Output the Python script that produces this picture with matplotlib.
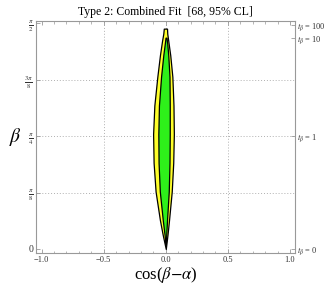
import numpy as np
import matplotlib
matplotlib.use('Agg')
import matplotlib.pyplot as plt
from matplotlib.ticker import MultipleLocator, FixedLocator

plt.rcParams['font.family'] = ['Liberation Serif', 'DejaVu Serif']
plt.rcParams['mathtext.fontset'] = 'stix'

title = "Type 2: Combined Fit  [68, 95% CL]"

# 95% CL contour: beta values and left/right cos(beta-alpha) extents
beta95 = [0.0, 0.1, 0.2, 0.4, 0.6, 0.8, 1.0, 1.2, 1.35, 1.45, 1.50, 1.535]
left95 = [0.0, -0.025, -0.047, -0.082, -0.098, -0.102, -0.092, -0.068, -0.047, -0.030, -0.020, -0.016]
right95 = [0.0, 0.014, 0.026, 0.048, 0.060, 0.065, 0.062, 0.053, 0.036, 0.020, 0.012, 0.010]

# 68% CL contour
beta68 = [0.03, 0.1, 0.2, 0.4, 0.6, 0.8, 1.0, 1.2, 1.35, 1.43, 1.472]
left68 = [-0.001, -0.010, -0.024, -0.048, -0.058, -0.060, -0.055, -0.038, -0.020, -0.008, -0.002]
right68 = [0.0, 0.004, 0.010, 0.024, 0.030, 0.032, 0.032, 0.030, 0.020, 0.012, 0.006]

xticks = [-1.0, -0.5, 0.0, 0.5, 1.0]
xticklabels = ['\u22121.0', '\u22120.5', '0.0', '0.5', '1.0']
yticks = [0, np.pi/8, np.pi/4, 3*np.pi/8, np.pi/2]
yticklabels = ['0', r'$\frac{\pi}{8}$', r'$\frac{\pi}{4}$', r'$\frac{3\pi}{8}$', r'$\frac{\pi}{2}$']
tb_values = [0, 1, 10, 100]
tb_labels = [r'$t_\beta$ = 0', r'$t_\beta$ = 1', r'$t_\beta$ = 10', r'$t_\beta$ = 100']

fig = plt.figure(figsize=(3.32, 2.92), dpi=100)
ax = fig.add_axes([0.1084, 0.1336, 0.78, 0.7944])

ax.set_xlim(-1.045, 1.04)
ax.set_ylim(-0.028, 1.588)

# grid
for gx in [-0.5, 0.0, 0.5]:
    ax.axvline(gx, color='#b0b0b0', lw=0.7, ls=(0, (1, 2)), zorder=0)
for gy in [np.pi/8, np.pi/4, 3*np.pi/8]:
    ax.axhline(gy, color='#b0b0b0', lw=0.7, ls=(0, (1, 2)), zorder=0)

ax.fill_betweenx(beta95, left95, right95, facecolor='#ffff2a', edgecolor='black', lw=0.9, zorder=2)
ax.fill_betweenx(beta68, left68, right68, facecolor='#2ef01a', edgecolor='black', lw=0.9, zorder=3)

spine_col = '#999999'
for s in ax.spines.values():
    s.set_color(spine_col)
    s.set_linewidth(0.8)

ax.set_xticks(xticks)
ax.set_xticklabels(xticklabels, fontsize=6)
ax.xaxis.set_minor_locator(MultipleLocator(0.1))
ax.set_yticks(yticks)
ax.set_yticklabels(yticklabels, fontsize=7)
ax.tick_params(axis='both', which='major', direction='in', length=3, width=0.6,
               color=spine_col, pad=2, top=True, labelcolor='#333333')
ax.tick_params(axis='x', which='minor', direction='in', length=1.8, width=0.5,
               color=spine_col, top=True)

ax2 = ax.twinx()
ax2.set_ylim(ax.get_ylim())
ax2.set_yticks(np.arctan(tb_values))
ax2.set_yticklabels(tb_labels, fontsize=6)
ax2.tick_params(axis='y', direction='in', length=3, width=0.6, color=spine_col,
                pad=1.5, labelcolor='#333333')
for s in ax2.spines.values():
    s.set_visible(False)

ax.set_title(title, fontsize=8.5, pad=4)
ax.set_xlabel(r'cos($\beta$$-$$\alpha$)', fontsize=12, labelpad=1)
ax.set_ylabel(r'$\beta$', fontsize=14, rotation=0, labelpad=6, va='center')

fig.savefig('out.png', dpi=100)
